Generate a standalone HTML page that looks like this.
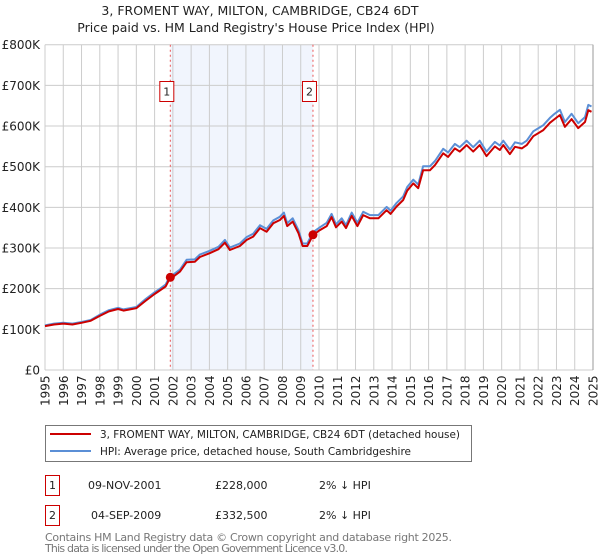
<!DOCTYPE html>
<html><head><meta charset="utf-8">
<style>
html,body{margin:0;padding:0;background:#fff;}
svg{display:block;font-family:"DejaVu Sans","Liberation Sans",sans-serif;}
</style></head>
<body>
<svg id="chart" width="600" height="560" viewBox="0 0 600 560">
  <text x="260" y="15" text-anchor="middle" font-size="12.5" fill="#222">3, FROMENT WAY, MILTON, CAMBRIDGE, CB24 6DT</text>
  <text x="256" y="32" text-anchor="middle" font-size="12.5" fill="#222">Price paid vs. HM Land Registry's House Price Index (HPI)</text>
  <g id="plot"></g>
  <g>
    <rect x="45.5" y="425.5" width="426" height="36" fill="#fff" stroke="#777"/>
    <line x1="50" y1="434" x2="91" y2="434" stroke="#cc0000" stroke-width="2"/>
    <text x="100" y="438" font-size="11" fill="#222" textLength="360" lengthAdjust="spacingAndGlyphs">3, FROMENT WAY, MILTON, CAMBRIDGE, CB24 6DT (detached house)</text>
    <line x1="50" y1="451" x2="91" y2="451" stroke="#5b8fd6" stroke-width="2"/>
    <text x="100" y="455" font-size="11" fill="#222" textLength="311" lengthAdjust="spacingAndGlyphs">HPI: Average price, detached house, South Cambridgeshire</text>
  </g>
  <g>
    <rect x="45.5" y="475.5" width="14" height="20" fill="#fff" stroke="#cc0000"/>
    <text x="52.5" y="489" text-anchor="middle" font-size="11" fill="#222">1</text>
    <text x="58" y="489" font-size="11" fill="#222"><tspan x="88">09-NOV-2001</tspan><tspan x="215">£228,000</tspan><tspan x="319">2% ↓ HPI</tspan></text>
    <rect x="45.5" y="505.5" width="14" height="20" fill="#fff" stroke="#cc0000"/>
    <text x="52.5" y="519" text-anchor="middle" font-size="11" fill="#222">2</text>
    <text x="58" y="519" font-size="11" fill="#222"><tspan x="91">04-SEP-2009</tspan><tspan x="215">£332,500</tspan><tspan x="319">2% ↓ HPI</tspan></text>
  </g>
  <text x="45" y="541" font-size="11" fill="#777" textLength="407">Contains HM Land Registry data © Crown copyright and database right 2025.</text>
  <text x="45" y="552" font-size="11" fill="#777" textLength="303">This data is licensed under the Open Government Licence v3.0.</text>
</svg>
<script>
const years = [1995.0,1995.5,1996.0,1996.5,1997.0,1997.5,1998.0,1998.5,1999.0,1999.3,2000.0,2000.5,2001.0,2001.2,2001.6,2001.86,2002.0,2002.39,2002.75,2003.2,2003.48,2004.0,2004.5,2004.85,2005.12,2005.67,2006.04,2006.4,2006.77,2007.13,2007.5,2007.86,2008.08,2008.26,2008.56,2008.87,2009.1,2009.36,2009.67,2010.05,2010.42,2010.69,2010.93,2011.24,2011.48,2011.79,2012.1,2012.42,2012.79,2013.25,2013.7,2013.92,2014.25,2014.61,2014.83,2015.16,2015.43,2015.7,2016.07,2016.35,2016.8,2017.07,2017.44,2017.7,2018.08,2018.44,2018.8,2019.17,2019.63,2019.9,2020.09,2020.45,2020.73,2021.1,2021.37,2021.73,2022.28,2022.64,2022.9,2023.19,2023.46,2023.83,2024.19,2024.56,2024.74,2024.92];
const pricePaid = [108,112,114,112,116,121,133,144,150,146,152,170,187,193,205,228,229,242,265,266,278,287,297,313,295,305,320,328,349,340,361,369,379,354,365,337,305,305,332,344,354,376,351,365,349,379,354,381,373,373,393,384,402,418,441,459,447,491,491,504,533,524,545,537,553,537,553,526,550,541,553,531,549,545,553,575,590,608,617,627,598,617,595,610,639,635];
const hpi = [110,114,116,114,118,123,136,147,153,149,155,174,191,197,210,233,234,247,271,272,284,293,303,320,301,311,327,335,356,347,368,377,387,361,373,344,311,311,339,351,362,384,358,373,356,387,362,389,381,381,401,392,411,427,450,468,456,501,501,514,544,535,556,548,564,548,564,537,561,552,564,542,560,556,564,587,602,620,630,640,610,630,607,622,652,648];
const yTicks = [0,100,200,300,400,500,600,700,800];
const yTickLabels = ["£0","£100K","£200K","£300K","£400K","£500K","£600K","£700K","£800K"];
const xTickYears = [1995,1996,1997,1998,1999,2000,2001,2002,2003,2004,2005,2006,2007,2008,2009,2010,2011,2012,2013,2014,2015,2016,2017,2018,2019,2020,2021,2022,2023,2024,2025];
const saleYears = [2001.86, 2009.67];
const saleValues = [228, 332.5];
const saleLabels = ["1","2"];

const X0=45, X1=593, Y0=370, Y1=44.7;
const x = yr => X0 + (yr-1995)/30*(X1-X0);
const y = v => Y0 - v/800*(Y0-Y1);
const NS="http://www.w3.org/2000/svg";
const plot=document.getElementById('plot');
function mk(tag, attrs, parent){const e=document.createElementNS(NS,tag);for(const k in attrs)e.setAttribute(k,attrs[k]);(parent||plot).appendChild(e);return e;}

const shade=mk('rect',{x:x(saleYears[0]),y:Y1,width:x(saleYears[1])-x(saleYears[0]),height:Y0-Y1,fill:'#eef3fd',opacity:0.8});



yTicks.forEach((t,i)=>{
  const g=mk('line',{x1:X0,x2:X1,y1:y(t),y2:y(t),stroke:'#cccccc','stroke-width':1});
  
  
  const lb=mk('text',{x:40,y:y(t)+4.5,'text-anchor':'end','font-size':'12',fill:'#222'});
  lb.textContent=yTickLabels[i];
  
  
});
xTickYears.forEach(yr=>{
  const g=mk('line',{x1:x(yr),x2:x(yr),y1:Y1,y2:Y0,stroke:'#cccccc','stroke-width':1});
  
  
  const lb=mk('text',{transform:`translate(${x(yr)+4.5},${Y0+36}) rotate(-90)`,'font-size':'12',fill:'#222'});
  lb.textContent=yr;
  
  
});

saleYears.forEach((yr,i)=>{
  const l=mk('line',{x1:x(yr),x2:x(yr),y1:Y1,y2:Y0,stroke:'#ee5555','stroke-width':1,'stroke-dasharray':'2,3'});
  
  
});

function pathFrom(vals){return vals.map((v,i)=>(i?'L':'M')+x(years[i]).toFixed(1)+','+y(v).toFixed(1)).join(' ');}
const hl=mk('path',{d:pathFrom(hpi),fill:'none',stroke:'#5b8fd6','stroke-width':2,'stroke-linejoin':'round'});


const pl=mk('path',{d:pathFrom(pricePaid),fill:'none',stroke:'#cc0000','stroke-width':2,'stroke-linejoin':'round'});



saleYears.forEach((yr,i)=>{
  const c=mk('circle',{cx:x(yr),cy:y(saleValues[i]),r:4.5,fill:'#cc0000'});
  
  
  const b=mk('rect',{x:x(yr)-10.5,y:81.5,width:14,height:20,fill:'#fff',stroke:'#cc0000'});
  
  
  const t=mk('text',{x:x(yr)-3.5,y:95.5,'text-anchor':'middle','font-size':'11',fill:'#222'});
  t.textContent=saleLabels[i];
  
  
});

const border=mk('line',{x1:X1,x2:X1,y1:Y1,y2:Y0,stroke:'#999','stroke-width':1});


</script>
</body></html>
